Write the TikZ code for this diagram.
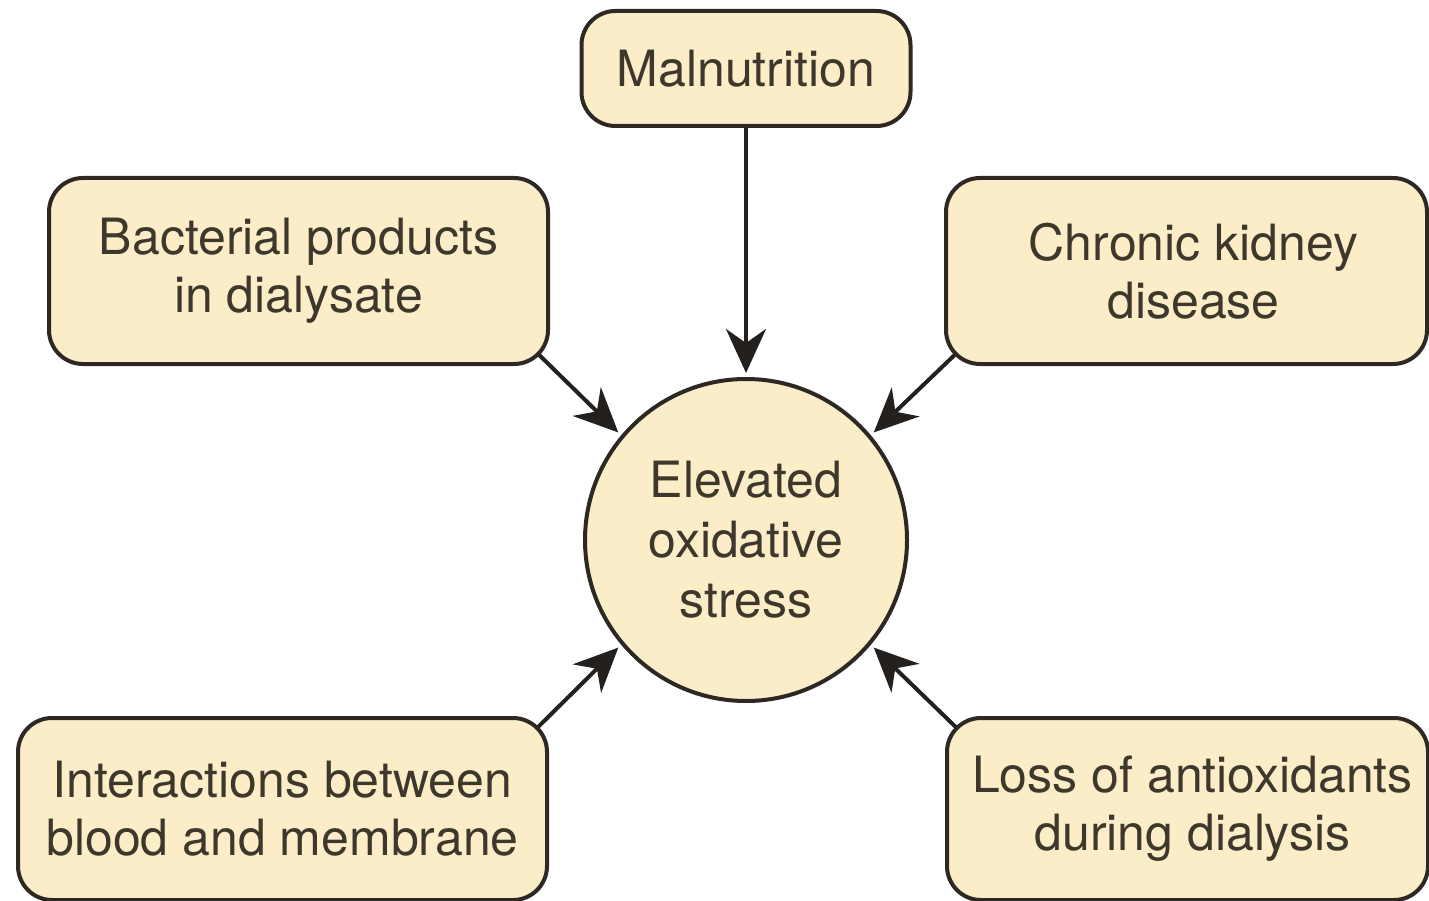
\documentclass[tikz,border=0pt]{standalone}
\usepackage{fontspec}
\setmainfont{TeX Gyre Heros}
\usetikzlibrary{arrows.meta,backgrounds}
\definecolor{boxfill}{RGB}{251,237,199}
\definecolor{boxline}{RGB}{45,40,35}
\definecolor{txtcol}{RGB}{62,56,44}
\definecolor{arrcol}{RGB}{35,32,30}
\tikzset{
  causebox/.style={draw=boxline, line width=4pt, fill=boxfill, rounded corners=34pt,
    inner sep=0pt, align=center, text=txtcol,
    font=\fontsize{50}{58}\selectfont},
  centrecircle/.style={draw=boxline, line width=4pt, fill=boxfill, circle,
    minimum size=322pt, inner sep=0pt, align=center, text=txtcol,
    font=\fontsize{50}{60}\selectfont},
  causearrow/.style={draw=arrcol, line width=4pt,
    -{Stealth[length=44pt, width=40pt, inset=14pt]}, shorten >=4pt}
}
\begin{document}
\begin{tikzpicture}[x=1pt, y=-1pt]
\useasboundingbox (0,0) rectangle (1429,901);
\node[causebox, minimum width=329pt, minimum height=115pt] (mal) at (746,68.5) {Malnutrition};
\node[causebox, minimum width=499pt, minimum height=186pt] (bact) at (298.5,271) {Bacterial products\\in dialysate};
\node[causebox, minimum width=481pt, minimum height=186pt] (ckd) at (1186.5,271) {\hspace*{14pt}Chronic kidney\\\hspace*{14pt}disease};
\node[causebox, minimum width=529pt, minimum height=182pt] (inter) at (282.5,809) {Interactions between\\blood and membrane};
\node[causebox, minimum width=481pt, minimum height=182pt] (loss) at (1187.5,809) {\hspace*{10pt}Loss of antioxidants\\\hspace*{10pt}during dialysis};
\node[centrecircle] (circ) at (746,540) {Elevated\\oxidative\\stress};
\begin{pgfonlayer}{background}
\draw[causearrow] (mal.south) -- (circ.north);
\draw[causearrow] ([shift={(-20pt,20pt)}]bact.south east) -- (circ.140);
\draw[causearrow] ([shift={(20pt,20pt)}]ckd.south west) -- (circ.40);
\draw[causearrow] ([shift={(-20pt,-20pt)}]inter.north east) -- (circ.220);
\draw[causearrow] ([shift={(20pt,-20pt)}]loss.north west) -- (circ.320);
\end{pgfonlayer}
\end{tikzpicture}
\end{document}
